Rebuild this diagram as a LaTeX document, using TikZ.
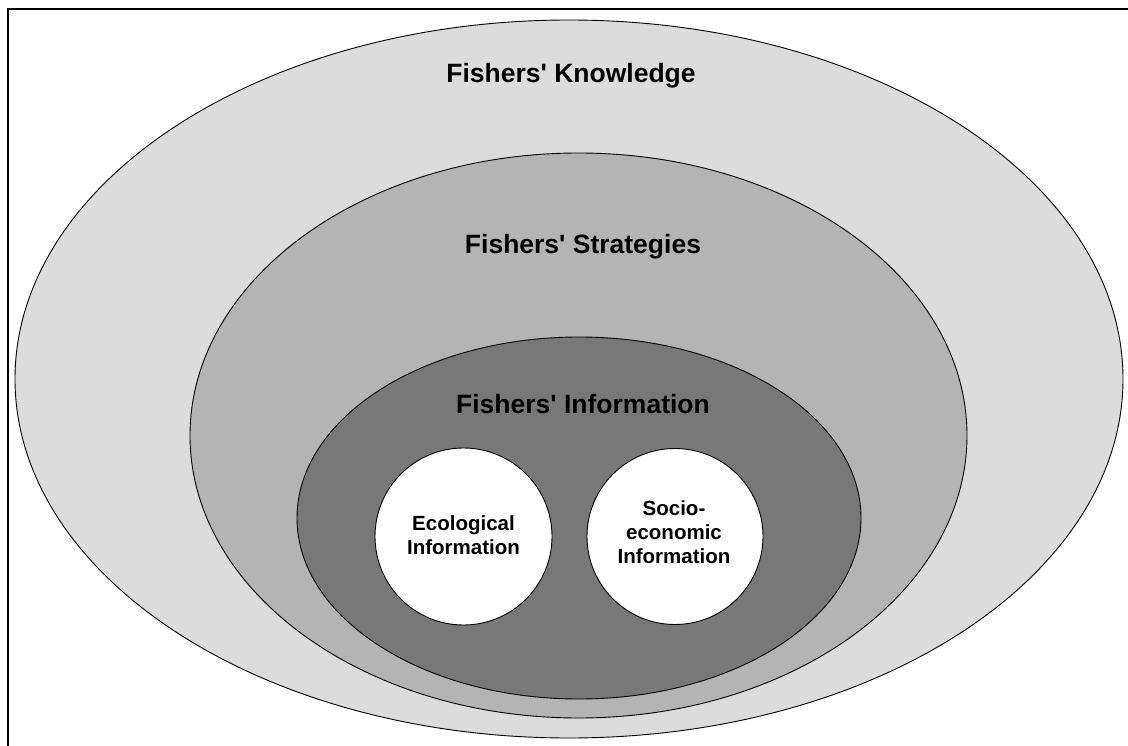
\documentclass[tikz,border=0pt]{standalone}
\usepackage{fontspec}
\setmainfont{Liberation Sans}
\usetikzlibrary{shapes.geometric}
\definecolor{knowfill}{RGB}{220,220,220}
\definecolor{stratfill}{RGB}{180,180,180}
\definecolor{infofill}{RGB}{120,120,120}
\begin{document}
\begin{tikzpicture}[x=1pt,y=-1pt,
  zone/.style={ellipse, draw=black, line width=0.9pt, inner sep=0pt},
  bubble/.style={circle, draw=black, fill=white, line width=0.9pt, inner sep=0pt},
  titletext/.style={font=\bfseries\fontsize{26.5}{30}\selectfont, inner sep=0pt, anchor=base},
  subtext/.style={font=\bfseries\fontsize{20.5}{24}\selectfont, align=center, inner sep=0pt}]
\useasboundingbox (0,0) rectangle (1128,746);
\fill[white] (0,0) rectangle (1128,746);
% frame (left and top edges only)
\coordinate (fb) at (8,748);
\coordinate (fr) at (1130,9);
\draw[line width=2.4pt] (fb) |- (fr);
% nested zones
\node[zone, fill=knowfill, minimum width=1108pt, minimum height=718pt] (know) at (569,379) {};
\node[zone, fill=stratfill, minimum width=777pt, minimum height=565pt] (strat) at (578.5,435.5) {};
\node[zone, fill=infofill, minimum width=564pt, minimum height=362pt] (info) at (579,518) {};
\node[bubble, minimum size=177pt] (eco) at (463.5,536.5) {};
\node[bubble, minimum size=176pt] (socio) at (675,536.5) {};
% titles
\node[titletext] (knowlabel) at (571,83) {Fishers\textquotesingle\ Knowledge};
\node[titletext] (stratlabel) at (583,254) {Fishers\textquotesingle\ Strategies};
\node[titletext] (infolabel) at (583,413) {Fishers\textquotesingle\ Information};
\node[subtext] (ecolabel) at (463.5,534.7) {Ecological\\Information};
\node[subtext] (sociolabel) at (674,532.6) {Socio-\\economic\\Information};
\end{tikzpicture}
\end{document}
